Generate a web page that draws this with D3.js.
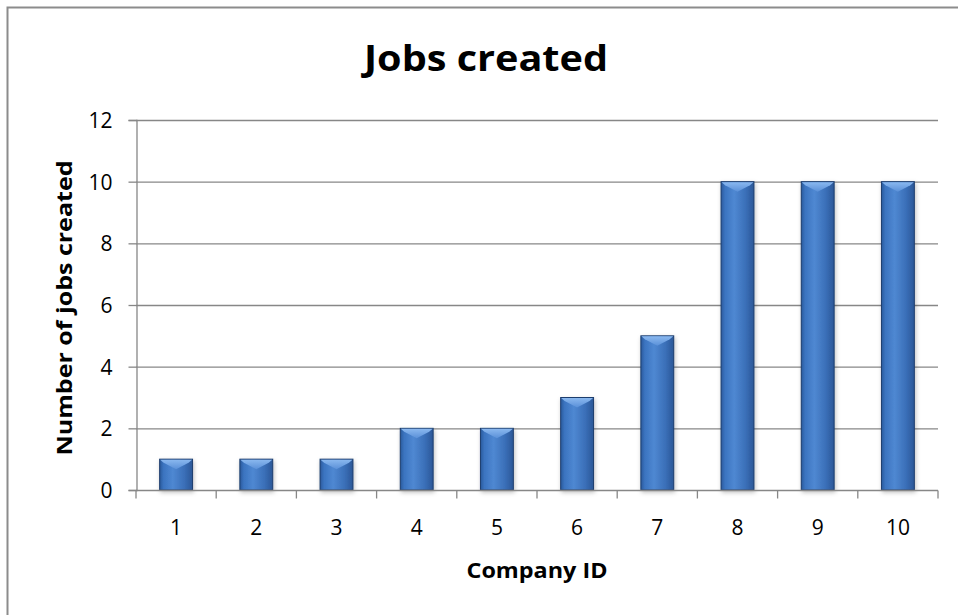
<!DOCTYPE html>
<html><head><meta charset="utf-8">
<script src="https://cdn.jsdelivr.net/npm/d3@7"></script>
<style>body{margin:0;background:#fff}svg{display:block}text{font-family:"Open Sans",sans-serif;fill:#000}</style>
</head><body><svg id="c" width="958" height="615"></svg>
<script>
const categories = ["1","2","3","4","5","6","7","8","9","10"];
const jobs = [1,1,1,2,2,3,5,10,10,10];
const yTicks = [0,2,4,6,8,10,12];
const title = "Jobs created";
const xTitle = "Company ID";
const yTitle = "Number of jobs created";

const svg = d3.select("#c");
const defs = svg.append("defs");
const g1 = defs.append("linearGradient").attr("id","bg").attr("x1","0").attr("x2","1").attr("y1","0").attr("y2","0");
[["0%","#2a5a9c"],["12%","#3b74c0"],["40%","#4f88d2"],["75%","#3a6fb8"],["100%","#2b5797"]].forEach(s=>g1.append("stop").attr("offset",s[0]).attr("stop-color",s[1]));
const g2 = defs.append("linearGradient").attr("id","tg").attr("x1","0").attr("x2","0").attr("y1","0").attr("y2","1");
[["0%","#8ab8ef"],["100%","#5a90d8"]].forEach(s=>g2.append("stop").attr("offset",s[0]).attr("stop-color",s[1]));
const f = defs.append("filter").attr("id","sh").attr("x","-30%").attr("y","-10%").attr("width","160%").attr("height","130%");
f.append("feDropShadow").attr("dx",1).attr("dy",2).attr("stdDeviation",2).attr("flood-color","#000").attr("flood-opacity",0.25);

// outer border
svg.append("path").attr("d","M7.5,615 V7.5 H958").attr("fill","none").attr("stroke","#8c8c8c").attr("stroke-width",2);

const L=136, R=938, T=120, B=490;
const x = d3.scaleBand().domain(categories).range([L,R]).paddingInner(0.59).paddingOuter(0.295);
const y = d3.scaleLinear().domain([0,12]).range([B,T]);
const grey="#878787";

// gridlines
svg.append("g").selectAll("line").data(yTicks.filter(d=>d>0)).join("line")
  .attr("x1",L).attr("x2",R).attr("y1",d=>y(d)+0.5).attr("y2",d=>y(d)+0.5).attr("stroke",grey).attr("stroke-width",1.3);

// y axis
const ya = svg.append("g").attr("transform",`translate(${L+0.5},0)`).call(d3.axisLeft(y).tickValues(yTicks).tickSize(8).tickPadding(16).tickFormat(d3.format("d")));
ya.select(".domain").attr("stroke",grey).attr("stroke-width",1.3);
ya.selectAll(".tick line").attr("stroke",grey).attr("stroke-width",1.3);
ya.selectAll(".tick text").attr("font-family","Open Sans").attr("font-size",21).attr("fill","#000").attr("dy","0.36em");

// bars
const bars = svg.append("g").selectAll("g").data(jobs).join("g").attr("filter","url(#sh)");
bars.append("rect").attr("x",(d,i)=>x(categories[i])).attr("y",d=>y(d)).attr("width",x.bandwidth()).attr("height",d=>B-y(d))
  .attr("fill","url(#bg)").attr("stroke","#1c3d6e").attr("stroke-width",1);
bars.append("path").attr("d",(d,i)=>{const x0=x(categories[i]),x1=x0+x.bandwidth(),y0=y(d),xc=(x0+x1)/2;
  return `M${x0+0.5},${y0+0.5} L${x1-0.5},${y0+0.5} L${x1-4},${y0+3.5} L${xc},${y0+10} L${x0+4},${y0+3.5} Z`;})
  .attr("fill","url(#tg)");

// x axis
const xa = svg.append("g").attr("transform",`translate(0,${B+0.5})`);
xa.append("line").attr("x1",L).attr("x2",R).attr("stroke",grey).attr("stroke-width",1.3);
const tickXs = d3.range(0,categories.length+1).map(i=>L+i*(R-L)/categories.length);
xa.selectAll("line.t").data(tickXs).join("line").attr("class","t").attr("x1",d=>d).attr("x2",d=>d).attr("y1",0).attr("y2",8).attr("stroke",grey).attr("stroke-width",1.3);
xa.selectAll("text").data(categories).join("text").attr("x",d=>x(d)+x.bandwidth()/2).attr("y",44).attr("text-anchor","middle").style("font-size","21px").text(d=>d);

// titles
svg.append("text").attr("x",486).attr("y",71).attr("text-anchor","middle").style("font-size","35px").style("font-weight","bold")
  .attr("textLength",244).attr("lengthAdjust","spacingAndGlyphs").text(title);
svg.append("text").attr("x",537).attr("y",578).attr("text-anchor","middle").style("font-size","21px").style("font-weight","bold")
  .attr("textLength",141).attr("lengthAdjust","spacingAndGlyphs").text(xTitle);
svg.append("text").attr("transform","translate(72,308) rotate(-90)").attr("text-anchor","middle").style("font-size","21px").style("font-weight","bold")
  .attr("textLength",295).attr("lengthAdjust","spacingAndGlyphs").text(yTitle);
</script></body></html>
